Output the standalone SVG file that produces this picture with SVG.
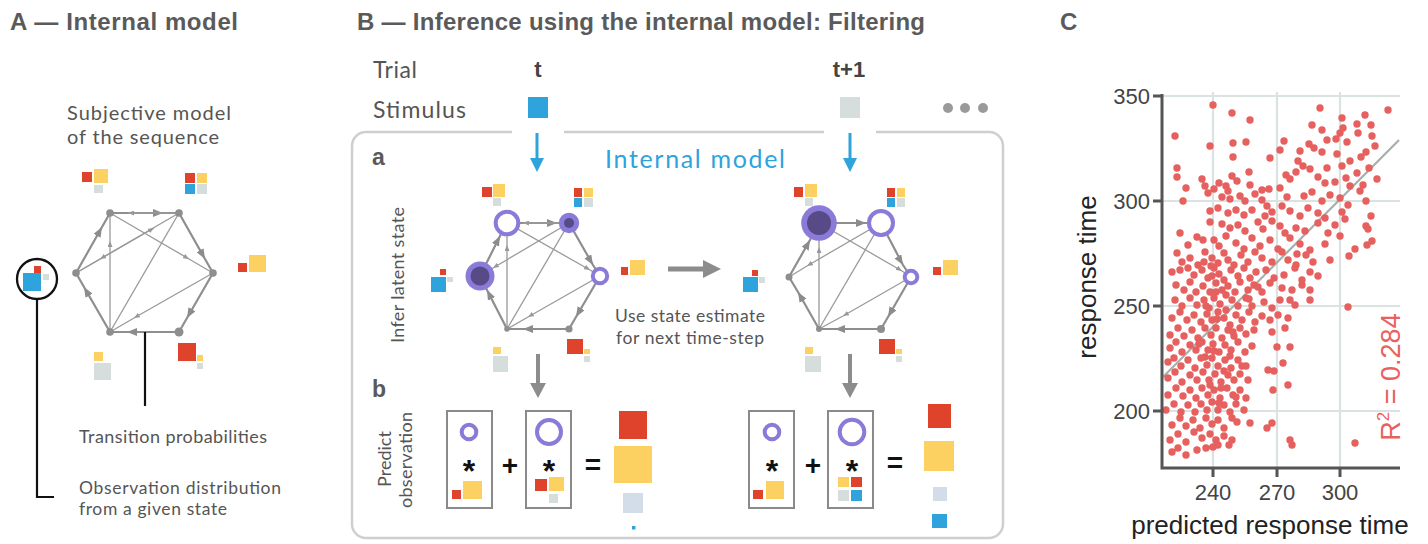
<svg xmlns="http://www.w3.org/2000/svg" width="1428" height="544" viewBox="0 0 1428 544">
<style>
.ttl{font-family:"Liberation Sans",Arial,sans-serif;font-weight:bold;font-size:24px;fill:#5a5a5a}
.av{font-family:Lato,"Noto Sans",sans-serif;fill:#555}
.hx{stroke:#8e8e8e;stroke-width:2.2;fill:none}
.dg{stroke:#9a9a9a;stroke-width:1.3;fill:none}
.r{fill:#e0432b}.y{fill:#fdd062}.g{fill:#d6dedd}.b{fill:#2fa3db}.lb{fill:#d3dde9}
.ring{fill:#fff;stroke:#8a7bd8;stroke-width:4}
.pd{fill:#8a7bd8}.dk{fill:#574a87}
.dot{fill:#8e8e8e}
.box{fill:#fff;stroke:#8a8a8a;stroke-width:2}
.op{font-family:"Liberation Sans",Arial,sans-serif;font-weight:bold;fill:#111;text-anchor:middle}
.ax{font-family:"Liberation Sans",Arial,sans-serif;fill:#444}
.grid{stroke:#dae3e1;stroke-width:2.2;fill:none}
</style>
<defs>
<marker id="ah" viewBox="0 0 10 8" refX="10" refY="4" markerWidth="10" markerHeight="8" markerUnits="userSpaceOnUse" orient="auto"><path d="M0 0L10 4L0 8z" fill="#8c8c8c"/></marker>
<marker id="as" viewBox="0 0 6 5" refX="6" refY="2.5" markerWidth="6" markerHeight="5" markerUnits="userSpaceOnUse" orient="auto"><path d="M0 0L6 2.5L0 5z" fill="#999"/></marker>
</defs>
<rect width="1428" height="544" fill="#fff"/>

<!-- Panel A -->
<g id="panelA">
<text class="ttl" x="10" y="30" textLength="228">A — Internal model</text>
<text class="av" x="67" y="120" font-size="20" textLength="164">Subjective model</text>
<text class="av" x="67" y="144" font-size="20" textLength="152">of the sequence</text>
<text class="av" x="79" y="443" font-size="18" textLength="188">Transition probabilities</text>
<text class="av" x="79" y="494" font-size="17.5" textLength="202">Observation distribution</text>
<text class="av" x="79" y="515" font-size="17.5" textLength="148">from a given state</text>
</g>
<g id="A-connectors">
<path class="hx" marker-mid="url(#ah)" d="M110 213L163 213L179 213"/>
<path class="hx" marker-mid="url(#ah)" d="M179 213L205 259L213 273"/>
<path class="hx" marker-mid="url(#ah)" d="M213 273L187 318L179 332"/>
<path class="hx" marker-mid="url(#ah)" d="M179 332L127 332L110 332"/>
<path class="hx" marker-mid="url(#ah)" d="M110 332L84 287L76 273"/>
<path class="hx" marker-mid="url(#ah)" d="M76 273L102 227L110 213"/>
<path class="dg" marker-mid="url(#as)" d="M110 213L189 259L213 273"/>
<path class="dg" marker-mid="url(#as)" d="M179 213L100 259L76 273"/>
<path class="dg" marker-mid="url(#as)" d="M213 273L134 318L110 332"/>
<path class="dg" marker-mid="url(#as)" d="M110 332L110 241L110 213"/>
<path class="dg" d="M179 213L110 332"/>
<path class="dg" marker-end="url(#as)" d="M179 213L128 213"/>
<path class="dg" marker-end="url(#as)" d="M76 273L154 228"/>
<path d="M37 299V497H54" fill="none" stroke="#111" stroke-width="2.2"/>
<path d="M145 332V406" fill="none" stroke="#111" stroke-width="2.2"/>
</g>
<g id="A-s-tl"><circle class="dot" cx="110" cy="213" r="3.8"/><rect class="r" x="82" y="172" width="10" height="10"/><rect class="y" x="94" y="169" width="14" height="14"/><rect class="g" x="94" y="185" width="9" height="8"/></g>
<g id="A-s-tr"><circle class="dot" cx="179" cy="213" r="3.8"/><rect class="r" x="185" y="173" width="10" height="10"/><rect class="y" x="197" y="173" width="10" height="10"/><rect class="b" x="185" y="184" width="10" height="10"/><rect class="g" x="197" y="184" width="10" height="10"/></g>
<g id="A-s-r"><circle class="dot" cx="213" cy="273" r="3.8"/><rect class="r" x="238" y="263" width="9" height="9"/><rect class="y" x="249" y="255" width="17" height="17"/></g>
<g id="A-s-br"><circle class="dot" cx="179" cy="332" r="4.5"/><rect class="r" x="178" y="343" width="18" height="18"/><rect class="y" x="197" y="355" width="6" height="6"/><rect class="g" x="197" y="363" width="6" height="6"/></g>
<g id="A-s-bl"><circle class="dot" cx="110" cy="332" r="3.8"/><rect class="y" x="94" y="352" width="9" height="9"/><rect class="g" x="94" y="363" width="17" height="17"/></g>
<g id="A-s-l"><circle class="dot" cx="76" cy="273" r="3.8"/><circle cx="37" cy="279" r="20" fill="none" stroke="#111" stroke-width="2.3"/><rect class="r" x="34" y="266" width="7" height="7"/><rect class="b" x="23" y="273" width="18" height="18"/><rect class="g" x="43" y="274" width="6" height="6"/></g>

<!-- Panel B -->
<g id="panelB">
<text class="ttl" x="357" y="30" textLength="568">B — Inference using the internal model: Filtering</text>
<text class="av" x="373" y="78" font-size="23" textLength="44">Trial</text>
<text class="av" x="373" y="118" font-size="23" textLength="93">Stimulus</text>
<text class="ttl" x="538" y="77" text-anchor="middle" style="fill:#444;font-size:22px">t</text>
<text class="ttl" x="849" y="77" text-anchor="middle" style="fill:#444;font-size:22px">t+1</text>
<rect class="b" x="528" y="97" width="20" height="21"/>
<rect class="g" x="840" y="97" width="20" height="21"/>
<circle cx="948" cy="108" r="5" fill="#9a9a9a"/><circle cx="965" cy="108" r="5" fill="#9a9a9a"/><circle cx="983" cy="108" r="5" fill="#9a9a9a"/>
<path d="M876 132H989A14 14 0 0 1 1003 146V524A14 14 0 0 1 989 538H366A14 14 0 0 1 352 524V146A14 14 0 0 1 366 132H512M564 132H824" fill="none" stroke="#cfcfcf" stroke-width="2.5"/>
<text class="ttl" x="372" y="165" style="font-size:23px">a</text>
<text class="ttl" x="372" y="397" style="font-size:23px">b</text>
<text x="695" y="168" font-family="Lato,'Noto Sans',sans-serif" font-size="25" fill="#2ea3dc" text-anchor="middle" textLength="180">Internal model</text>
<text class="av" transform="translate(404 275) rotate(-90)" font-size="18" text-anchor="middle" textLength="136">Infer latent state</text>
<text class="av" x="690" y="322" font-size="17.5" text-anchor="middle" textLength="150">Use state estimate</text>
<text class="av" x="690" y="344" font-size="17.5" text-anchor="middle" textLength="148">for next time-step</text>
<text class="av" transform="translate(391 459) rotate(-90)" font-size="18" text-anchor="middle">Predict</text>
<text class="av" transform="translate(412 460) rotate(-90)" font-size="18" text-anchor="middle" textLength="96">observation</text>
</g>
<g id="B-connectors">
<path d="M537 133V160" stroke="#2ea3dc" stroke-width="3"/><path d="M530 158L544 158L537 172z" fill="#2ea3dc"/>
<path d="M850 133V160" stroke="#2ea3dc" stroke-width="3"/><path d="M843 158L857 158L850 172z" fill="#2ea3dc"/>
<path d="M668 269H705" stroke="#8c8c8c" stroke-width="5"/><path d="M703 260L721 269L703 278z" fill="#8c8c8c"/>
<path d="M538 354V385" stroke="#8c8c8c" stroke-width="4"/><path d="M530 383L546 383L538 398z" fill="#8c8c8c"/>
<path d="M850 354V385" stroke="#8c8c8c" stroke-width="4"/><path d="M842 383L858 383L850 398z" fill="#8c8c8c"/>
<path class="hx" marker-mid="url(#ah)" d="M507 223L557 223L569 223"/>
<path class="hx" marker-mid="url(#ah)" d="M569 223L593 265L600 276"/>
<path class="hx" marker-mid="url(#ah)" d="M600 276L576 317L569 329"/>
<path class="hx" marker-mid="url(#ah)" d="M569 329L523 329L507 329"/>
<path class="hx" marker-mid="url(#ah)" d="M507 329L487 290L480 276"/>
<path class="hx" marker-mid="url(#ah)" d="M480 276L500 236L507 223"/>
<path class="dg" marker-mid="url(#as)" d="M507 223L590 270L600 276"/>
<path class="dg" marker-mid="url(#as)" d="M569 223L493 268L480 276"/>
<path class="dg" marker-mid="url(#as)" d="M600 276L528 317L507 329"/>
<path class="dg" marker-mid="url(#as)" d="M507 329L507 245L507 223"/>
<path class="dg" d="M569 223L507 329"/>
<path class="dg" marker-end="url(#as)" d="M569 223L523 223"/>
<path class="hx" marker-mid="url(#ah)" d="M819 223L866 223L881 223"/>
<path class="hx" marker-mid="url(#ah)" d="M881 223L903 265L911 277"/>
<path class="hx" marker-mid="url(#ah)" d="M911 277L888 317L881 329"/>
<path class="hx" marker-mid="url(#ah)" d="M881 329L835 329L819 329"/>
<path class="hx" marker-mid="url(#ah)" d="M819 329L798 292L789 277"/>
<path class="hx" marker-mid="url(#ah)" d="M789 277L810 240L819 223"/>
<path class="dg" marker-mid="url(#as)" d="M819 223L902 271L911 277"/>
<path class="dg" marker-mid="url(#as)" d="M881 223L807 266L789 277"/>
<path class="dg" marker-mid="url(#as)" d="M911 277L843 316L819 329"/>
<path class="dg" marker-mid="url(#as)" d="M819 329L819 247L819 223"/>
<path class="dg" d="M881 223L819 329"/>
</g>
<g id="B1-s-tl"><circle class="ring" cx="507" cy="223" r="11.3"/><rect class="r" x="482" y="187" width="10" height="10"/><rect class="y" x="493" y="184" width="12" height="13"/><rect class="g" x="493" y="198" width="8" height="8"/></g>
<g id="B1-s-tr"><circle class="pd" cx="569" cy="223" r="10.2"/><circle class="dk" cx="569" cy="223" r="5"/><rect class="r" x="574" y="188" width="8" height="9"/><rect class="y" x="584" y="188" width="9" height="9"/><rect class="b" x="574" y="198" width="8" height="9"/><rect class="g" x="584" y="198" width="9" height="9"/></g>
<g id="B1-s-r"><circle class="ring" cx="600" cy="276" r="7.2" stroke-width="3.6"/><rect class="r" x="621" y="267" width="7" height="8"/><rect class="y" x="630" y="260" width="15" height="15"/></g>
<g id="B1-s-br"><circle class="dot" cx="569" cy="329" r="3.6"/><rect class="r" x="567" y="339" width="16" height="15"/><rect class="y" x="584" y="349" width="6" height="5"/><rect class="g" x="584" y="356" width="6" height="6"/></g>
<g id="B1-s-bl"><circle class="dot" cx="507" cy="329" r="2.8"/><rect class="y" x="493" y="347" width="8" height="7"/><rect class="g" x="493" y="356" width="15" height="16"/></g>
<g id="B1-s-l"><circle class="pd" cx="480" cy="276" r="14.5"/><circle class="dk" cx="480" cy="276" r="9.5"/><rect class="b" x="431" y="277" width="15" height="15"/><rect class="r" x="440" y="269" width="6" height="6"/><rect class="g" x="447" y="277" width="6" height="5"/></g>
<g id="B2-s-tl"><circle class="pd" cx="819" cy="223" r="17.8"/><circle class="dk" cx="819" cy="223" r="12"/><rect class="r" x="794" y="187" width="9" height="10"/><rect class="y" x="805" y="184" width="12" height="13"/><rect class="g" x="805" y="198" width="8" height="8"/></g>
<g id="B2-s-tr"><circle class="ring" cx="881" cy="223" r="12" stroke-width="4.5"/><rect class="r" x="887" y="188" width="8" height="9"/><rect class="y" x="897" y="188" width="8" height="9"/><rect class="b" x="887" y="198" width="8" height="9"/><rect class="g" x="897" y="198" width="8" height="9"/></g>
<g id="B2-s-r"><circle class="ring" cx="911" cy="277" r="6.3" stroke-width="3.4"/><rect class="r" x="933" y="267" width="8" height="8"/><rect class="y" x="943" y="260" width="15" height="15"/></g>
<g id="B2-s-br"><circle class="dot" cx="881" cy="329" r="4"/><rect class="r" x="879" y="339" width="16" height="15"/><rect class="y" x="896" y="349" width="6" height="5"/><rect class="g" x="896" y="356" width="6" height="6"/></g>
<g id="B2-s-bl"><circle class="dot" cx="819" cy="329" r="3"/><rect class="y" x="805" y="347" width="8" height="7"/><rect class="g" x="805" y="356" width="16" height="16"/></g>
<g id="B2-s-l"><circle class="dot" cx="789" cy="277" r="3.5"/><rect class="b" x="743" y="277" width="15" height="15"/><rect class="r" x="752" y="270" width="6" height="6"/><rect class="g" x="759" y="277" width="6" height="6"/></g>
<g id="B1-predict">
<rect class="box" x="447" y="411" width="45" height="97"/>
<rect class="box" x="526" y="411" width="45" height="97"/>
<circle class="ring" cx="469" cy="432" r="7.3" stroke-width="3.5"/>
<circle class="ring" cx="549" cy="432" r="12" stroke-width="3.5"/>
<text class="op" x="469" y="482" font-size="32">*</text>
<text class="op" x="549" y="482" font-size="32">*</text>
<rect class="r" x="452" y="490" width="9" height="9"/><rect class="y" x="463" y="481" width="19" height="18"/>
<rect class="r" x="535" y="479" width="12" height="12"/><rect class="y" x="549" y="477" width="15" height="14"/><rect class="g" x="549" y="494" width="9" height="9"/>
<text class="op" x="510" y="475" font-size="28">+</text>
<text class="op" x="593" y="474" font-size="28">=</text>
<rect class="r" x="619" y="411" width="28" height="28"/><rect class="y" x="614" y="446" width="38" height="37"/><rect class="lb" x="623" y="493" width="20" height="20"/><rect class="b" x="632" y="526" width="3.5" height="3.5"/>
</g>
<g id="B2-predict">
<rect class="box" x="749" y="411" width="45" height="97"/>
<rect class="box" x="828" y="411" width="45" height="97"/>
<circle class="ring" cx="772" cy="432" r="7.3" stroke-width="3.5"/>
<circle class="ring" cx="852" cy="432" r="12.3" stroke-width="3.5"/>
<text class="op" x="772" y="482" font-size="32">*</text>
<text class="op" x="852" y="482" font-size="32">*</text>
<rect class="r" x="753" y="490" width="10" height="9"/><rect class="y" x="766" y="481" width="18" height="18"/>
<rect class="y" x="838" y="477" width="11" height="10"/><rect class="r" x="851" y="477" width="11" height="10"/><rect class="g" x="838" y="490" width="11" height="11"/><rect class="b" x="851" y="490" width="11" height="11"/>
<text class="op" x="813" y="475" font-size="28">+</text>
<text class="op" x="895" y="472" font-size="28">=</text>
<rect class="r" x="928" y="404" width="23" height="24"/><rect class="y" x="924" y="441" width="30" height="30"/><rect class="lb" x="933" y="487" width="14" height="14"/><rect class="b" x="932" y="514" width="15" height="14"/>
</g>

<!-- Panel C -->
<g id="panelC">
<text class="ttl" x="1060" y="30">C</text>
<path class="grid" d="M1213 92V468M1277 92V468M1340 92V468M1162 96H1400M1162 201H1400M1162 306H1400M1162 411H1400"/>
<path d="M1163 377L1399 140" stroke="#a7afad" stroke-width="2.2" fill="none"/>
<path fill="none" stroke="#e5605e" stroke-width="7.4" stroke-linecap="round" d="M1213 105h0M1232 113h0M1320 108h0M1388 110h0M1365 115h0M1342 118h0M1250 120h0M1312 125h0M1343 128h0M1357 124h0M1371 125h0M1358 133h0M1372 136h0M1340 133h0M1322 130h0M1336 139h0M1347 142h0M1327 140h0M1309 144h0M1284 141h0M1314 148h0M1375 146h0M1366 152h0M1175 136h0M1210 146h0M1233 143h0M1246 142h0M1280 150h0M1300 151h0M1322 152h0M1337 154h0M1361 157h0M1350 161h0M1233 157h0M1270 158h0M1298 161h0M1303 166h0M1310 169h0M1327 168h0M1342 166h0M1357 173h0M1369 168h0M1286 175h0M1296 172h0M1177 168h0M1177 177h0M1186 188h0M1202 179h0M1205 186h0M1208 193h0M1219 183h0M1226 186h0M1232 176h0M1237 181h0M1228 191h0M1249 172h0M1250 185h0M1262 190h0M1269 189h0M1280 188h0M1290 179h0M1318 177h0M1325 183h0M1335 182h0M1346 178h0M1350 186h0M1363 185h0M1377 179h0M1183 201h0M1214 189h0M1222 197h0M1230 199h0M1240 196h0M1245 201h0M1255 194h0M1262 200h0M1267 206h0M1287 197h0M1304 196h0M1312 192h0M1322 201h0M1330 195h0M1340 198h0M1348 205h0M1360 191h0M1366 201h0M1210 211h0M1218 208h0M1228 213h0M1236 210h0M1244 215h0M1252 210h0M1265 216h0M1272 212h0M1282 206h0M1290 211h0M1300 216h0M1308 208h0M1318 213h0M1325 218h0M1342 212h0M1345 219h0M1366 226h0M1371 216h0M1180 233h0M1197 237h0M1210 222h0M1222 224h0M1230 228h0M1238 225h0M1245 231h0M1258 222h0M1263 229h0M1272 221h0M1280 226h0M1285 233h0M1296 228h0M1305 231h0M1318 223h0M1328 233h0M1335 225h0M1368 229h0M1372 241h0M1188 245h0M1203 240h0M1214 240h0M1219 246h0M1226 236h0M1236 243h0M1244 249h0M1252 238h0M1260 246h0M1270 240h0M1278 249h0M1290 238h0M1300 244h0M1310 250h0M1325 244h0M1340 236h0M1349 256h0M1355 249h0M1367 245h0M1177 253h0M1182 262h0M1190 258h0M1198 265h0M1205 252h0M1212 258h0M1218 263h0M1224 253h0M1228 260h0M1234 265h0M1241 255h0M1248 262h0M1255 252h0M1262 258h0M1272 262h0M1282 252h0M1288 260h0M1296 265h0M1306 255h0M1313 262h0M1330 260h0M1297 254h0M1172 272h0M1180 270h0M1188 268h0M1194 275h0M1202 270h0M1208 278h0M1214 268h0M1219 274h0M1224 280h0M1231 270h0M1238 276h0M1244 268h0M1250 278h0M1256 272h0M1266 270h0M1274 278h0M1284 275h0M1295 268h0M1302 280h0M1310 272h0M1318 276h0M1176 285h0M1184 290h0M1190 282h0M1196 292h0M1203 286h0M1210 292h0M1216 283h0M1222 290h0M1228 286h0M1235 292h0M1240 282h0M1248 290h0M1254 285h0M1262 292h0M1270 283h0M1282 288h0M1292 290h0M1302 285h0M1290 300h0M1310 290h0M1175 300h0M1182 306h0M1190 298h0M1197 305h0M1204 300h0M1209 308h0M1214 298h0M1220 304h0M1226 310h0M1232 300h0M1238 306h0M1246 298h0M1252 306h0M1264 302h0M1272 308h0M1280 300h0M1295 305h0M1348 307h0M1310 300h0M1172 318h0M1180 312h0M1187 320h0M1194 315h0M1201 322h0M1207 314h0M1212 320h0M1218 312h0M1224 318h0M1230 325h0M1236 315h0M1242 320h0M1249 312h0M1255 322h0M1262 316h0M1270 320h0M1278 315h0M1288 318h0M1170 335h0M1178 328h0M1184 336h0M1192 330h0M1198 338h0M1205 328h0M1211 335h0M1216 328h0M1222 338h0M1228 330h0M1234 336h0M1240 328h0M1246 334h0M1254 330h0M1272 332h0M1285 328h0M1170 348h0M1176 342h0M1182 352h0M1190 345h0M1196 350h0M1202 342h0M1208 350h0M1213 344h0M1219 352h0M1225 345h0M1231 350h0M1238 342h0M1245 352h0M1252 346h0M1277 347h0M1290 347h0M1168 362h0M1174 358h0M1181 366h0M1188 360h0M1195 368h0M1201 358h0M1207 365h0M1212 358h0M1218 366h0M1225 360h0M1231 368h0M1238 360h0M1246 366h0M1283 363h0M1268 370h0M1274 371h0M1168 378h0M1175 372h0M1182 382h0M1190 375h0M1197 380h0M1203 372h0M1209 380h0M1215 374h0M1221 382h0M1228 375h0M1234 380h0M1240 374h0M1248 380h0M1273 390h0M1288 385h0M1168 395h0M1176 388h0M1183 396h0M1190 390h0M1196 398h0M1202 388h0M1208 395h0M1214 390h0M1220 398h0M1227 388h0M1233 395h0M1240 390h0M1246 398h0M1166 410h0M1174 404h0M1181 412h0M1188 405h0M1195 412h0M1201 404h0M1207 410h0M1212 402h0M1218 410h0M1224 405h0M1230 412h0M1236 404h0M1244 410h0M1172 425h0M1180 418h0M1186 426h0M1193 420h0M1200 428h0M1206 418h0M1212 424h0M1218 420h0M1224 428h0M1232 418h0M1237 422h0M1250 423h0M1267 428h0M1272 423h0M1170 440h0M1178 434h0M1186 442h0M1194 432h0M1202 438h0M1210 434h0M1216 440h0M1224 436h0M1232 440h0M1290 440h0M1292 445h0M1355 443h0M1172 452h0M1178 448h0M1186 455h0M1197 450h0M1206 448h0M1213 447h0M1218 445h0M1229 445h0M1204 262h0M1211 266h0M1216 292h0M1226 295h0M1206 306h0M1217 319h0M1233 332h0M1199 344h0M1214 351h0M1224 371h0M1210 385h0M1236 397h0M1219 403h0M1242 366h0M1230 356h0M1249 299h0M1258 287h0M1212 276h0M1205 357h0M1221 388h0"/>
<path d="M1162 94V468H1400" fill="none" stroke="#555" stroke-width="3"/>
<path d="M1153 96H1162M1153 201H1162M1153 306H1162M1153 411H1162M1213 468V477M1277 468V477M1340 468V477" stroke="#555" stroke-width="3"/>
<text class="ax" x="1150" y="104" font-size="22" text-anchor="end">350</text>
<text class="ax" x="1150" y="209" font-size="22" text-anchor="end">300</text>
<text class="ax" x="1150" y="314" font-size="22" text-anchor="end">250</text>
<text class="ax" x="1150" y="419" font-size="22" text-anchor="end">200</text>
<text class="ax" x="1213" y="500" font-size="22" text-anchor="middle">240</text>
<text class="ax" x="1277" y="500" font-size="22" text-anchor="middle">270</text>
<text class="ax" x="1340" y="500" font-size="22" text-anchor="middle">300</text>
<text x="1270" y="534" font-family="'Liberation Sans',Arial,sans-serif" font-size="26" fill="#222" text-anchor="middle">predicted response time</text>
<text transform="translate(1096 277) rotate(-90)" font-family="'Liberation Sans',Arial,sans-serif" font-size="26" fill="#222" text-anchor="middle">response time</text>
<text transform="translate(1400 377) rotate(-90)" font-family="'Liberation Sans',Arial,sans-serif" font-size="27" fill="#e8615f" text-anchor="middle">R<tspan font-size="17" dy="-11">2</tspan><tspan dy="11"> = 0.284</tspan></text>
</g>
</svg>
